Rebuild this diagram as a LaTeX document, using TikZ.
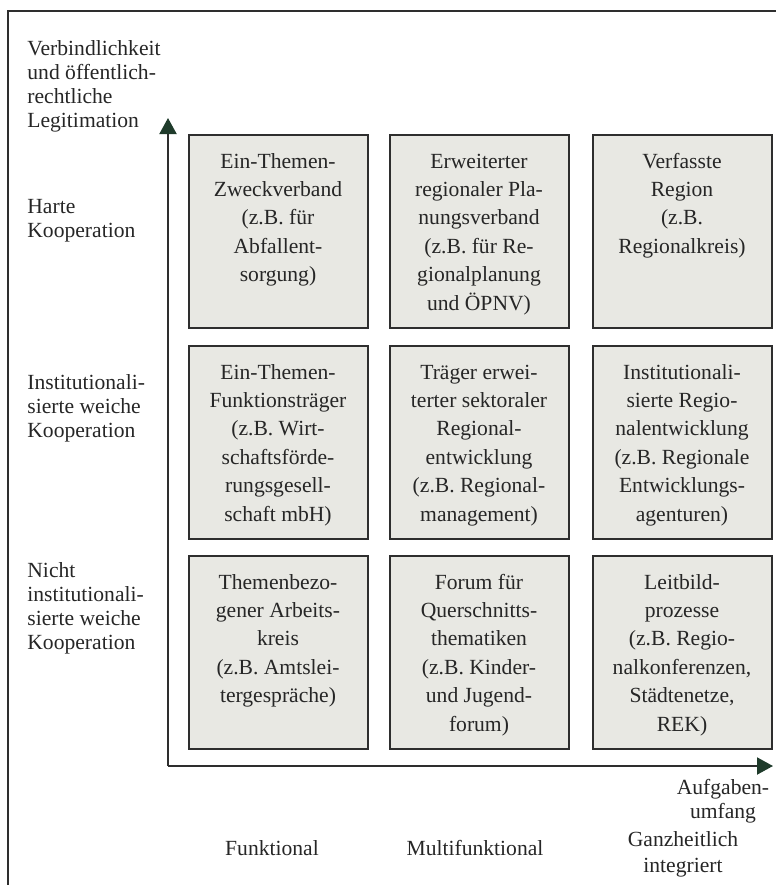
\documentclass[tikz,border=0pt]{standalone}
\usepackage{fontspec}
\setmainfont{Liberation Serif}
\usetikzlibrary{arrows.meta}

\newlength{\du}
\setlength{\du}{0.5pt}

\definecolor{cellfill}{rgb}{0.910000, 0.910000, 0.890000}
\definecolor{cellline}{rgb}{0.180000, 0.180000, 0.180000}
\definecolor{textgrey}{rgb}{0.150000, 0.150000, 0.150000}
\definecolor{tipgreen}{rgb}{0.120000, 0.230000, 0.170000}

\newcommand{\celltext}[1]{\parbox[t][193\du][t]{179\du}{\centering\rule{0pt}{16.5pt}#1}}

\tikzset{
  cell/.style={draw=cellline, fill=cellfill, line width=2\du, inner sep=0pt,
    text=textgrey, font=\fontsize{10.8}{14.2}\selectfont},
  sidelabel/.style={anchor=west, align=left, inner sep=0pt, text=textgrey,
    font=\fontsize{10.8}{12}\selectfont},
  footlabel/.style={align=center, inner sep=0pt, text=textgrey,
    font=\fontsize{10.8}{12}\selectfont},
  axisline/.style={draw=cellline, line width=2\du,
    -{Triangle[length=8pt, width=8.5pt, color=tipgreen]}},
}

\begin{document}
\begin{tikzpicture}
\pgftransformxscale{1.000000}
\pgftransformyscale{-1.000000}
\useasboundingbox (0\du,0\du) rectangle (776\du,885\du);
% outer frame
\draw[cellline, line width=1.5\du] (8\du,890\du)--(8\du,11\du)--(780\du,11\du);
% axes
\coordinate (origin) at (168\du,766\du);
\coordinate (ytip) at (168\du,118\du);
\coordinate (xtip) at (773\du,766\du);
\draw[axisline] (origin)--(ytip);
\draw[axisline] (origin)--(xtip);
% side labels
\node[sidelabel] (ytitle) at (27\du,86\du){Verbindlichkeit\\und öffentlich-\\rechtliche\\Legitimation};
\node[sidelabel] (hart) at (27\du,221\du){Harte\\Kooperation};
\node[sidelabel] (weich) at (27\du,408\du){Institutionali-\\sierte weiche\\Kooperation};
\node[sidelabel] (nicht) at (27\du,608\du){Nicht\\institutionali-\\sierte weiche\\Kooperation};
% cells, row 1
\node[cell] (c11) at (278\du,231.5\du){\celltext{Ein-Themen-\\Zweckverband\\(z.B. für\\Abfallent-\\sorgung)}};
\node[cell] (c12) at (479\du,231.5\du){\celltext{Erweiterter\\regionaler Pla-\\nungsverband\\(z.B. für Re-\\gionalplanung\\und ÖPNV)}};
\node[cell] (c13) at (682\du,231.5\du){\celltext{Verfasste\\Region\\(z.B.\\Regionalkreis)}};
% cells, row 2
\node[cell] (c21) at (278\du,442.5\du){\celltext{Ein-Themen-\\Funktionsträger\\(z.B. Wirt-\\schaftsförde-\\rungsgesell-\\schaft mbH)}};
\node[cell] (c22) at (479\du,442.5\du){\celltext{Träger erwei-\\terter sektoraler\\Regional-\\entwicklung\\(z.B. Regional-\\management)}};
\node[cell] (c23) at (682\du,442.5\du){\celltext{Institutionali-\\sierte Regio-\\nalentwicklung\\(z.B. Regionale\\Entwicklungs-\\agenturen)}};
% cells, row 3
\node[cell] (c31) at (278\du,652.5\du){\celltext{Themenbezo-\\gener Arbeits-\\kreis\\(z.B. Amtslei-\\tergespräche)}};
\node[cell] (c32) at (479\du,652.5\du){\celltext{Forum für\\Querschnitts-\\thematiken\\(z.B. Kinder-\\und Jugend-\\forum)}};
\node[cell] (c33) at (682\du,652.5\du){\celltext{Leitbild-\\prozesse\\(z.B. Regio-\\nalkonferenzen,\\Städtenetze,\\REK)}};
% foot labels
\node[footlabel] (xtitle) at (723\du,801\du){Aufgaben-\\umfang};
\node[footlabel] (funk) at (272\du,848\du){Funktional};
\node[footlabel] (multi) at (475\du,848\du){Multifunktional};
\node[footlabel, font=\fontsize{10.8}{13}\selectfont] (ganz) at (683\du,854\du){Ganzheitlich\\integriert};
\end{tikzpicture}
\end{document}
